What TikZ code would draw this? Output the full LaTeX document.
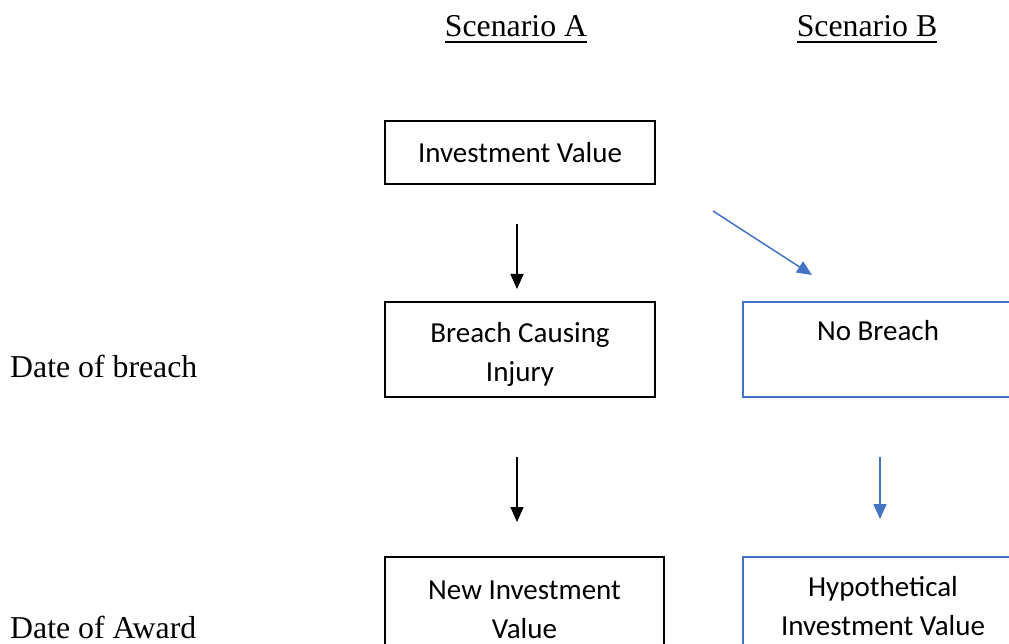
\documentclass[tikz,border=0pt]{standalone}
\usepackage{fontspec}
\setmainfont{Liberation Serif}
\newfontfamily\boxfont{Carlito}
\usetikzlibrary{arrows.meta}
\definecolor{obl}{HTML}{4472C4}
\begin{document}
\begin{tikzpicture}[x=1pt,y=-1pt,
  box/.style={draw, line width=1.8pt, inner sep=0pt, outer sep=0pt, anchor=north west,
    align=center, font=\boxfont\fontsize{29}{39}\selectfont},
  lab/.style={inner sep=0pt, font=\fontsize{31.8}{38}\selectfont},
  arr/.style={line width=1.5pt, -{Triangle[width=13pt,length=15pt]}},
]
\useasboundingbox (0,0) rectangle (1009,644);
\clip (0,0) rectangle (1009,644);
\fill[white] (0,0) rectangle (1009,644);

% headings
\node[lab, anchor=base] (sa) at (516,37) {Scenario A};
\node[lab, anchor=base] (sb) at (867,37) {Scenario B};
\draw[line width=1.5pt] ([yshift=-5pt]sa.base west) -- ([yshift=-5pt]sa.base east);
\draw[line width=1.5pt] ([yshift=-5pt]sb.base west) -- ([yshift=-5pt]sb.base east);

% row labels
\node[lab, anchor=base west] (db) at (10,377) {Date of breach};
\node[lab, anchor=base west] (da) at (10,638) {Date of Award};

% boxes
\node[box, minimum width=270pt, minimum height=63pt] (iv) at (385,121) {Investment Value};
\node[box, minimum width=270pt, minimum height=95pt] (bci) at (385,302) {\rule{0pt}{30pt}Breach Causing\\Injury};
\node[box, draw=obl, minimum width=270pt, minimum height=95pt] (nb) at (743,302) {No Breach\\\mbox{}};
\node[box, minimum width=279pt, minimum height=99pt] (niv) at (385,557) {\rule{0pt}{25pt}New Investment\\Value};
\node[box, draw=obl, minimum width=280pt, minimum height=99pt] (hiv) at (743,557) {Hypothetical\\Investment Value};

% arrow ends
\coordinate (a1s) at (517,224); \coordinate (a1e) at (517,289);
\coordinate (a2s) at (713,211); \coordinate (a2e) at (812,275);
\coordinate (a3s) at (517,457); \coordinate (a3e) at (517,522);
\coordinate (a4s) at (880,457); \coordinate (a4e) at (880,519);

\draw[arr] (a1s) -- (a1e);
\draw[arr, obl] (a2s) -- (a2e);
\draw[arr] (a3s) -- (a3e);
\draw[arr, obl] (a4s) -- (a4e);
\end{tikzpicture}
\end{document}
